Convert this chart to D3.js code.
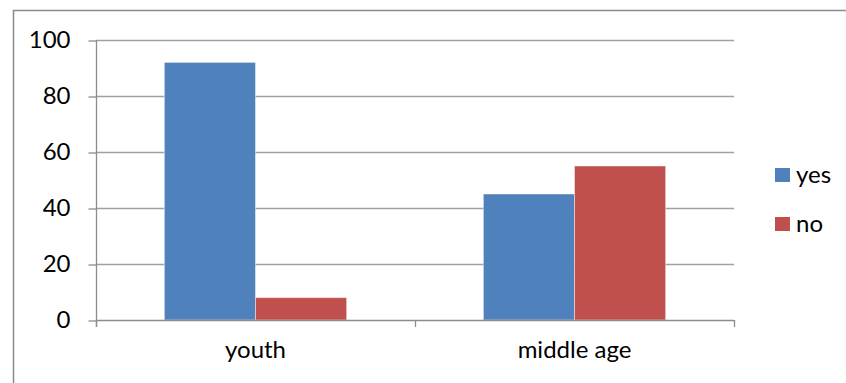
<!DOCTYPE html>
<html>
<head>
<meta charset="utf-8">
<script src="https://cdn.jsdelivr.net/npm/d3@7"></script>
<style>
  html, body { margin: 0; padding: 0; background: #fff; }
  svg { display: block; font-family: Lato, "Liberation Sans", sans-serif; }
</style>
</head>
<body>
<svg id="chart" width="846" height="383"></svg>
<script>
// Age groups and survey answers
const categories = ["youth", "middle age"];
const seriesNames = ["yes", "no"];
const yesValues = [92, 45];
const noValues = [8, 55];
const yTicks = [0, 20, 40, 60, 80, 100];
const seriesColors = ["#4F81BD", "#C0504D"];

const svg = d3.select("#chart");
const W = 846, H = 383;
const plot = { left: 96, right: 734, top: 40, bottom: 320 };

// Outer chart frame
svg.append("rect")
  .attr("x", 13.5).attr("y", 10.5)
  .attr("width", W).attr("height", H)
  .attr("fill", "#fff")
  .attr("stroke", "#8c8c8c").attr("stroke-width", 1.5);

// One band per age group; bars take the middle of each band (gap of 1.5 bar widths)
const x0 = d3.scaleBand().domain(categories).range([plot.left, plot.right]).padding(0);
const x1 = d3.scaleBand().domain(seriesNames).range([0, x0.bandwidth()]).paddingInner(0).paddingOuter(0.75);
const y = d3.scaleLinear().domain([0, 100]).range([plot.bottom, plot.top]);

// Horizontal gridlines
svg.append("g")
  .selectAll("line")
  .data(yTicks.filter(t => t > 0))
  .join("line")
  .attr("x1", plot.left).attr("x2", plot.right)
  .attr("y1", d => Math.round(y(d)) + 0.5).attr("y2", d => Math.round(y(d)) + 0.5)
  .attr("stroke", "#a0a0a0").attr("stroke-width", 1.3);

// Bars
const rows = categories.map((c, i) => ({ cat: c, vals: [yesValues[i], noValues[i]] }));
const groups = svg.append("g").selectAll("g")
  .data(rows)
  .join("g")
  .attr("transform", d => `translate(${x0(d.cat)},0)`);

groups.selectAll("rect")
  .data(d => d.vals.map((v, j) => ({ key: seriesNames[j], v, j })))
  .join("rect")
  .attr("x", d => x1(d.key))
  .attr("width", x1.bandwidth())
  .attr("y", d => y(d.v))
  .attr("height", d => y(0) - y(d.v))
  .attr("fill", d => seriesColors[d.j])
  .attr("stroke", "rgba(255,255,255,0.45)")
  .attr("stroke-width", 1);

// Y axis
const yAxis = d3.axisLeft(y).tickValues(yTicks).tickSize(8).tickPadding(18).tickFormat(d3.format("d"));
const gy = svg.append("g").attr("transform", `translate(${plot.left + 0.5},0)`).call(yAxis);
gy.select(".domain").remove();
gy.selectAll(".tick line").attr("stroke", "#8c8c8c").attr("stroke-width", 1.3)
  .attr("transform", "translate(0,0.5)");
gy.selectAll(".tick text").attr("font-size", 24).attr("fill", "#000")
  .attr("font-family", "Lato, sans-serif");
svg.append("line")
  .attr("x1", plot.left + 0.5).attr("x2", plot.left + 0.5)
  .attr("y1", plot.top).attr("y2", plot.bottom + 7)
  .attr("stroke", "#8c8c8c").attr("stroke-width", 1.3);

// X axis baseline and category dividers
svg.append("line")
  .attr("x1", plot.left).attr("x2", plot.right)
  .attr("y1", plot.bottom + 0.5).attr("y2", plot.bottom + 0.5)
  .attr("stroke", "#8c8c8c").attr("stroke-width", 1.3);
const dividers = [plot.left, ...categories.map(c => x0(c) + x0.bandwidth())];
svg.append("g").selectAll("line")
  .data(dividers)
  .join("line")
  .attr("x1", d => d + 0.5).attr("x2", d => d + 0.5)
  .attr("y1", plot.bottom).attr("y2", plot.bottom + 7)
  .attr("stroke", "#8c8c8c").attr("stroke-width", 1.3);

svg.append("g").selectAll("text")
  .data(categories)
  .join("text")
  .attr("x", d => x0(d) + x0.bandwidth() / 2)
  .attr("y", 358)
  .attr("text-anchor", "middle")
  .attr("font-size", 24)
  .attr("fill", "#000")
  .text(d => d);

// Legend
const legend = svg.append("g").selectAll("g")
  .data(seriesNames)
  .join("g")
  .attr("transform", (d, i) => `translate(775,${168 + i * 49})`);
legend.append("rect")
  .attr("width", 15).attr("height", 14)
  .attr("fill", (d, i) => seriesColors[i]);
legend.append("text")
  .attr("x", 21).attr("y", 15)
  .attr("font-size", 24)
  .attr("fill", "#000")
  .text(d => d);
</script>
</body>
</html>
